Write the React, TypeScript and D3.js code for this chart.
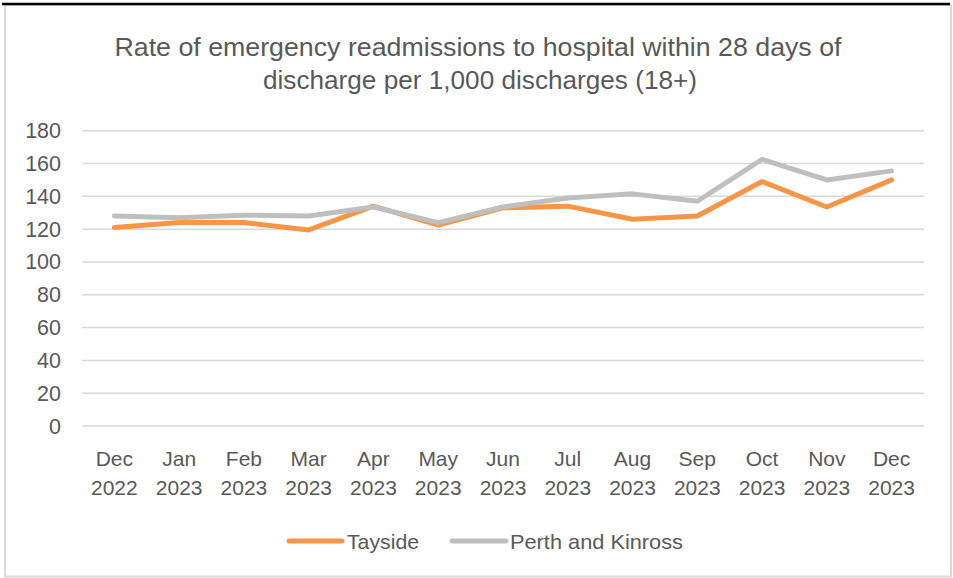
import React from "react";
import * as d3 from "d3";

const categories = [
  ["Dec", "2022"], ["Jan", "2023"], ["Feb", "2023"], ["Mar", "2023"], ["Apr", "2023"],
  ["May", "2023"], ["Jun", "2023"], ["Jul", "2023"], ["Aug", "2023"], ["Sep", "2023"],
  ["Oct", "2023"], ["Nov", "2023"], ["Dec", "2023"],
];
const tayside = [121, 124, 124, 119.5, 134, 122.5, 133, 134, 126, 128, 149, 133.5, 150];
const perthKinross = [128, 127, 128.5, 128, 133.5, 124, 133.5, 139, 141.5, 137, 162.5, 150, 155.5];
const yTicks = [0, 20, 40, 60, 80, 100, 120, 140, 160, 180];
const titleLines = [
  "Rate of emergency readmissions to hospital within 28 days of",
  "discharge per 1,000 discharges (18+)",
];
const seriesNames = ["Tayside", "Perth and Kinross"];

const W = 953;
const H = 578;
const FONT = "'Liberation Sans', Arial, sans-serif";
const TEXT = "#595959";
const ORANGE = "#F79646";
const GRAY = "#BFBFBF";

export default function App() {
  const x = d3.scaleBand<number>().domain(d3.range(categories.length)).range([82, 924]);
  const y = d3.scaleLinear().domain([0, 180]).range([426, 130.7]);
  const cx = (i: number) => (x(i) as number) + x.bandwidth() / 2;
  const line = d3.line<number>().x((_, i) => cx(i)).y((d) => y(d));

  return (
    <svg width={W} height={H} style={{ position: "absolute", left: 0, top: 0 }}>
      <rect x={0} y={0} width={W} height={H} fill="#fff" />
      <rect x={5} y={5} width={946} height={571.5} fill="#fff" stroke="#d9d9d9" strokeWidth={2} />
      <line x1={2} x2={950} y1={4} y2={4} stroke="#000" strokeWidth={2.5} />

      <text x={478} y={56} textAnchor="middle" fontFamily={FONT} fontSize={25} fill={TEXT}
        textLength={727} lengthAdjust="spacingAndGlyphs">{titleLines[0]}</text>
      <text x={480} y={89} textAnchor="middle" fontFamily={FONT} fontSize={25} fill={TEXT}
        textLength={434} lengthAdjust="spacingAndGlyphs">{titleLines[1]}</text>

      {yTicks.map((t) => (
        <g key={t}>
          <line x1={82} x2={924} y1={y(t)} y2={y(t)} stroke="#d9d9d9" strokeWidth={1.5} />
          <text x={61} y={y(t) + 7.5} textAnchor="end" fontFamily={FONT} fontSize={21.5} fill={TEXT}>{t}</text>
        </g>
      ))}

      {categories.map((c, i) => (
        <g key={i}>
          <text x={cx(i)} y={466} textAnchor="middle" fontFamily={FONT} fontSize={21} fill={TEXT}>{c[0]}</text>
          <text x={cx(i)} y={495} textAnchor="middle" fontFamily={FONT} fontSize={21} fill={TEXT}>{c[1]}</text>
        </g>
      ))}

      <path d={line(tayside) || ""} fill="none" stroke={ORANGE} strokeWidth={5} strokeLinejoin="round" strokeLinecap="round" />
      <path d={line(perthKinross) || ""} fill="none" stroke={GRAY} strokeWidth={5} strokeLinejoin="round" strokeLinecap="round" />

      <line x1={289} x2={342} y1={541} y2={541} stroke={ORANGE} strokeWidth={5} strokeLinecap="round" />
      <text x={347} y={549} fontFamily={FONT} fontSize={21} fill={TEXT} textLength={72} lengthAdjust="spacingAndGlyphs">{seriesNames[0]}</text>
      <line x1={452} x2={506} y1={541} y2={541} stroke={GRAY} strokeWidth={5} strokeLinecap="round" />
      <text x={510} y={549} fontFamily={FONT} fontSize={21} fill={TEXT} textLength={173} lengthAdjust="spacingAndGlyphs">{seriesNames[1]}</text>
    </svg>
  );
}
